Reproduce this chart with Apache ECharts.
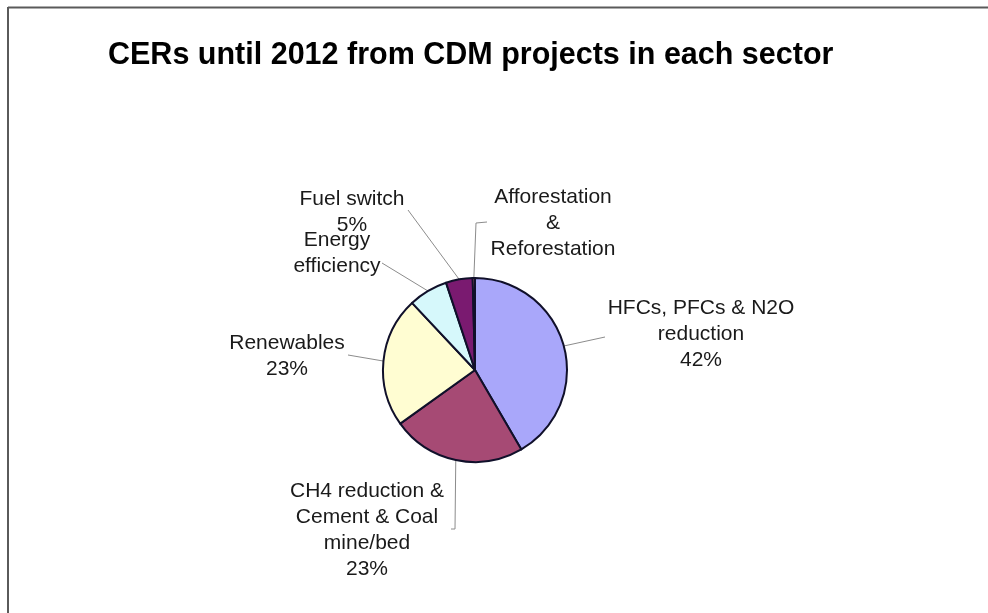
<!DOCTYPE html>
<html>
<head>
<meta charset="utf-8">
<script src="https://cdn.jsdelivr.net/npm/echarts@6/dist/echarts.min.js"></script>
<style>
html,body{margin:0;padding:0;background:#fff;}
#c{width:988px;height:613px;}
</style>
</head>
<body>
<div id="c"></div>
<script>
// ---- data ----
const titleText = 'CERs until 2012 from CDM projects in each sector';
const sectors = [
  'HFCs, PFCs & N2O reduction',
  'CH4 reduction & Cement & Coal mine/bed',
  'Renewables',
  'Energy efficiency',
  'Fuel switch',
  'Afforestation & Reforestation'
];
const shares = [41.6, 23.5, 22.9, 6.9, 4.7, 0.4];
const labelLinesText = [
  ['HFCs, PFCs & N2O', 'reduction'],
  ['CH4 reduction &', 'Cement & Coal', 'mine/bed'],
  ['Renewables'],
  ['Energy', 'efficiency'],
  ['Fuel switch'],
  ['Afforestation', '&', 'Reforestation']
];
const pctLabels = ['42%', '23%', '23%', '', '5%', ''];

// ---- layout / style ----
const CX = 475, CY = 370, R = 92;
const colors = ['#A9A7FA', '#A64A74', '#FFFDD2', '#D6F8FB', '#7A1A70', '#FF8080'];
// label block centres relative to pie centre
const labelPos = [[226, -36], [-108, 160], [-188, -14], [-138, -117], [-123, -158], [78, -147]];
// leader line points (after the slice anchor) relative to pie centre
const leaderPts = [
  [[130, -33]],
  [[-20, 159], [-24, 159]],
  [[-127, -15]],
  [[-93, -107]],
  [[-67, -160]],
  [[1, -147], [12, -148]]
];

const total = shares.reduce((a, b) => a + b, 0);

const chart = echarts.init(document.getElementById('c'), null, {renderer: 'canvas'});
chart.setOption({
  animation: false,
  backgroundColor: '#fff',
  title: {
    text: titleText,
    left: 108,
    top: 41,
    padding: 0,
    textStyle: {
      fontFamily: 'Liberation Sans, Arial, sans-serif',
      fontSize: 30.5,
      fontWeight: 'bold',
      color: '#000',
      lineHeight: 30
    }
  },
  graphic: [
    {type: 'line', shape: {x1: 8, y1: 7.5, x2: 988, y2: 7.5}, style: {stroke: '#5a5a5a', lineWidth: 2}, silent: true},
    {type: 'line', shape: {x1: 8, y1: 7, x2: 8, y2: 613}, style: {stroke: '#5a5a5a', lineWidth: 2}, silent: true}
  ],
  series: [{
    type: 'pie',
    center: [CX, CY],
    radius: R,
    startAngle: 90,
    clockwise: true,
    avoidLabelOverlap: false,
    silent: true,
    minShowLabelAngle: 0,
    itemStyle: {borderColor: '#10102a', borderWidth: 2},
    emphasis: {disabled: true},
    label: {
      show: true,
      position: 'outside',
      fontFamily: 'Liberation Sans, Arial, sans-serif',
      fontSize: 21,
      lineHeight: 26,
      color: '#1a1a1a',
      formatter: function (p) {
        const lines = labelLinesText[p.dataIndex].slice();
        if (pctLabels[p.dataIndex]) lines.push(pctLabels[p.dataIndex]);
        return lines.join('\n');
      }
    },
    labelLine: {
      show: true,
      length: 10,
      length2: 10,
      lineStyle: {color: '#8c8c8c', width: 1}
    },
    labelLayout: function (p) {
      const i = p.dataIndex;
      let before = 0;
      for (let k = 0; k < i; k++) before += shares[k];
      const mid = (before + shares[i] / 2) / total * 2 * Math.PI;
      const start = [CX + R * Math.sin(mid), CY - R * Math.cos(mid)];
      let pts = [start].concat(leaderPts[i].map(d => [CX + d[0], CY + d[1]]));
      if (pts.length === 2) pts = [pts[0], pts[1], pts[1]];
      return {
        x: CX + labelPos[i][0],
        y: CY + labelPos[i][1],
        align: 'center',
        verticalAlign: 'middle',
        labelLinePoints: pts
      };
    },
    data: sectors.map((name, i) => ({
      name: name,
      value: shares[i],
      itemStyle: {color: colors[i]}
    }))
  }]
});
</script>
</body>
</html>
